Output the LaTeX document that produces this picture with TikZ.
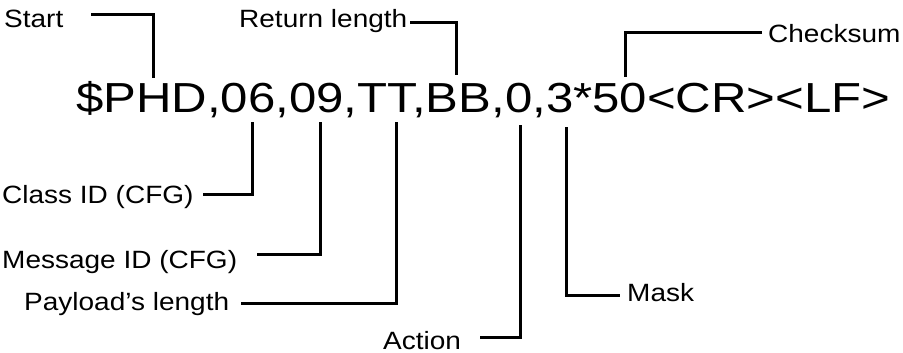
\documentclass[tikz,border=0pt]{standalone}
\usepackage{fontspec}
\setmainfont{Liberation Sans}
\newfontfamily\lblfont[FakeStretch=1.12]{Liberation Sans}
\newfontfamily\codefont[FakeStretch=1.17]{Liberation Sans}
\begin{document}
\begin{tikzpicture}[x=1pt,y=-1pt,
  lbl/.style={inner sep=0pt, anchor=base west, font=\lblfont\fontsize{25}{30}\selectfont},
  conn/.style={line width=3pt, line join=miter}]
\useasboundingbox[fill=white] (0,0) rectangle (903,353);
% main sentence
\node[inner sep=0pt, anchor=base west, font=\codefont\fontsize{42}{48}\selectfont] (code) at (76,113) {\$PHD,06,09,TT,BB,0,3*50<CR><LF>};
% labels
\node[lbl] (start) at (4,27.3) {Start};
\node[lbl] (ret) at (239,27.3) {Return length};
\node[lbl] (chk) at (768,43) {Checksum};
\node[lbl] (cls) at (2,203) {Class ID (CFG)};
\node[lbl] (msg) at (2,268) {Message ID (CFG)};
\node[lbl] (pay) at (24,310) {Payload’s length};
\node[lbl] (act) at (383,349.5) {Action};
\node[lbl] (msk) at (627,301.7) {Mask};
% connector ends
\coordinate (sStart) at (91,15);   \coordinate (tStart) at (153,78);
\coordinate (sRet) at (410,22.7);  \coordinate (tRet) at (456,75);
\coordinate (sChk) at (762,33);    \coordinate (tChk) at (625,77);
\coordinate (tCls) at (252,122);   \coordinate (sCls) at (203,194);
\coordinate (tMsg) at (320,122);   \coordinate (sMsg) at (257,254);
\coordinate (tPay) at (396,122);   \coordinate (sPay) at (241,303);
\coordinate (tAct) at (520,125);   \coordinate (sAct) at (480,337);
\coordinate (tMsk) at (566,127);   \coordinate (sMsk) at (620,295);
% connectors
\draw[conn] (sStart) -| (tStart);
\draw[conn] (sRet) -| (tRet);
\draw[conn] (sChk) -| (tChk);
\draw[conn] (tCls) |- (sCls);
\draw[conn] (tMsg) |- (sMsg);
\draw[conn] (tPay) |- (sPay);
\draw[conn] (tAct) |- (sAct);
\draw[conn] (tMsk) |- (sMsk);
\end{tikzpicture}
\end{document}
